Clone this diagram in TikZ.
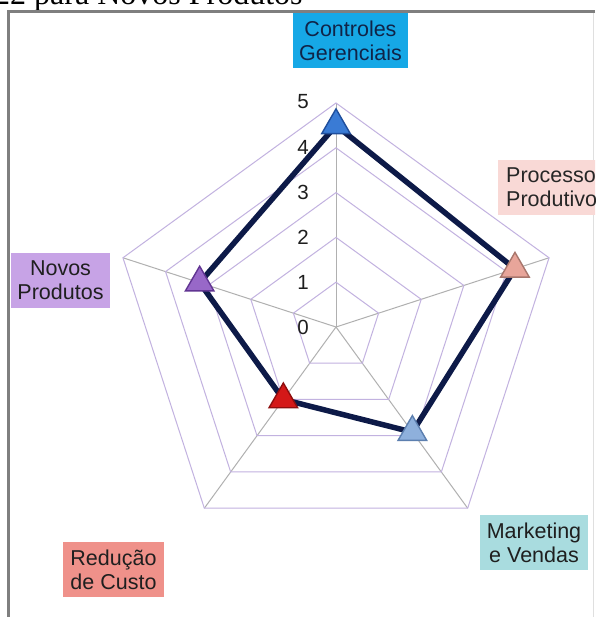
\documentclass[tikz,border=0pt]{standalone}
\usepackage{fontspec}
\setmainfont{Liberation Sans}
\newfontfamily\serifface{Liberation Serif}
\usetikzlibrary{shapes.geometric}
\definecolor{gridpurple}{HTML}{C2B2E0}
\definecolor{gridgray}{HTML}{B0B0B0}
\definecolor{seriesnavy}{HTML}{0D1A48}
\definecolor{framegray}{HTML}{7F7F7F}
\definecolor{axisgray}{HTML}{1E1E1E}
\definecolor{cgfill}{HTML}{16A8E6}
\definecolor{cgtext}{HTML}{102448}
\definecolor{ppfill}{HTML}{F9D9D6}
\definecolor{npfill}{HTML}{C7A3E6}
\definecolor{mvfill}{HTML}{A9DCDF}
\definecolor{rcfill}{HTML}{EF918A}
\definecolor{cgmark}{HTML}{3A7BD5}
\definecolor{cgmarkd}{HTML}{1F4E9C}
\definecolor{ppmark}{HTML}{E8A59A}
\definecolor{ppmarkd}{HTML}{A8766C}
\definecolor{mvmark}{HTML}{8EB0DC}
\definecolor{mvmarkd}{HTML}{5C7FAF}
\definecolor{rcmark}{HTML}{D41818}
\definecolor{rcmarkd}{HTML}{8E0E0E}
\definecolor{npmark}{HTML}{9868C8}
\definecolor{npmarkd}{HTML}{613592}
\begin{document}
\begin{tikzpicture}[x=1pt,y=1pt,
  ring/.style={draw=gridpurple, line width=1pt},
  spoke/.style={draw=gridgray, line width=1pt},
  catbox/.style={inner sep=0pt, minimum height=55pt, align=center, font=\fontsize{21.5}{24}\selectfont},
  axlabel/.style={font=\fontsize{20.5}{24}\selectfont, text=axisgray, inner sep=0pt},
  marker/.style={regular polygon, regular polygon sides=3, minimum size=33pt, inner sep=0pt, line width=1.4pt},
  series/.style={draw=seriesnavy, line width=5.5pt, line join=round},
  frameline/.style={draw=framegray, line width=3pt}
]
\useasboundingbox (0,0) rectangle (595,-617);
\clip (0,0) rectangle (595,-617);
\fill[white] (0,0) rectangle (595,-617);

% clipped heading text from the page above
\node[anchor=base west, inner sep=0pt, font=\serifface\fontsize{32}{32}\selectfont] (title) at (-6,-5) {22 para Novos Produtos};

% frame
\coordinate (ftl) at (8.5,-11.5);
\coordinate (ftr) at (595,-11.5);
\coordinate (fbl) at (8.5,-617);
\draw[draw=gray!25, line width=1pt] (593.5,-13) -- (593.5,-617);
\draw[frameline] (ftr) -- (ftl) -- (fbl);

\begin{scope}[shift={(336,-327)}]
  \coordinate (O) at (0,0);
  \foreach \a/\n in {90/a1,18/a2,-54/a3,-126/a4,162/a5} \coordinate (\n) at (\a:224);
  \foreach \n in {a1,a2,a3,a4,a5} \draw[spoke] (O) -- (\n);
  \foreach \k in {1,...,5}{
    \draw[ring] (90:{\k*44.8}) -- (18:{\k*44.8}) -- (-54:{\k*44.8}) -- (-126:{\k*44.8}) -- (162:{\k*44.8}) -- cycle;
  }
  \coordinate (pCG) at (90:{4.5*44.8});
  \coordinate (pPP) at (18:{4.2*44.8});
  \coordinate (pMV) at (-54:{2.9*44.8});
  \coordinate (pRC) at (-126:{2.0*44.8});
  \coordinate (pNP) at (162:{3.2*44.8});
\end{scope}

% axis labels
\node[axlabel] (l0) at (303,-327) {0};
\node[axlabel] (l1) at (303,-282) {1};
\node[axlabel] (l2) at (303,-237.5) {2};
\node[axlabel] (l3) at (303,-192.5) {3};
\node[axlabel] (l4) at (303,-147.5) {4};
\node[axlabel] (l5) at (303,-102) {5};

% data series
\draw[series] (pCG) -- (pPP) -- (pMV) -- (pRC) -- (pNP) -- cycle;
\node[marker, fill=cgmark, draw=cgmarkd] (mCG) at (pCG) {};
\node[marker, fill=ppmark, draw=ppmarkd] (mPP) at (pPP) {};
\node[marker, fill=mvmark, draw=mvmarkd] (mMV) at (pMV) {};
\node[marker, fill=rcmark, draw=rcmarkd] (mRC) at (pRC) {};
\node[marker, fill=npmark, draw=npmarkd] (mNP) at (pNP) {};

% category labels
\node[catbox, fill=cgfill, text=cgtext, minimum width=115pt] (cCG) at (350.5,-40.5) {Controles\\Gerenciais};
\node[catbox, fill=ppfill, text=black!85, anchor=west, minimum width=120pt, align=left, text width=114pt] (cPP) at (498,-187.5) {\hspace*{5pt}Processo\\\hspace*{5pt}Produtivo};
\node[catbox, fill=npfill, text=black!88, minimum width=99pt] (cNP) at (60.5,-280.5) {Novos\\Produtos};
\node[catbox, fill=mvfill, text=black!88, minimum width=108pt] (cMV) at (534,-542.5) {Marketing\\e Vendas};
\node[catbox, fill=rcfill, text=black!88, minimum width=101pt] (cRC) at (113.5,-569.5) {Redução\\de Custo};
\end{tikzpicture}
\end{document}
